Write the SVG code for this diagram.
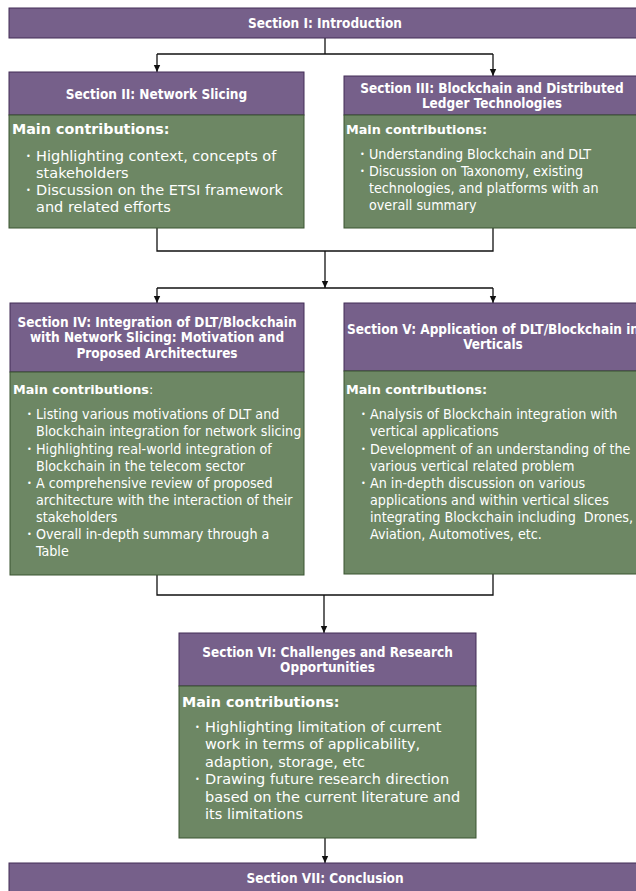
<svg xmlns="http://www.w3.org/2000/svg" width="636" height="891" viewBox="0 0 636 891">
<style>
.hd{fill:#76608A;stroke:#432D57;stroke-width:1}
.bd{fill:#6D8764;stroke:#3A5431;stroke-width:1}
.ht{font-family:"DejaVu Sans Condensed","DejaVu Sans",sans-serif;font-weight:bold;font-size:13.5px;fill:#fff;text-anchor:middle}
.mc{font-family:"DejaVu Sans",sans-serif;font-weight:bold;fill:#fff}
.mcl{font-size:14.3px}
.mcs{font-size:12.8px}
.tw{font-family:"DejaVu Sans",sans-serif;font-size:14.5px;fill:#fff}
.tn{font-family:"DejaVu Sans Condensed","DejaVu Sans",sans-serif;font-size:14.2px;fill:#fff}
.bu{font-family:"DejaVu Sans",sans-serif;font-size:8px;fill:#fff}
.cn{fill:none;stroke:#111;stroke-width:1.3}
</style>
<defs>
<marker id="ah" markerWidth="8" markerHeight="8" refX="7" refY="4" orient="auto" markerUnits="userSpaceOnUse">
<path d="M0,0.8 L7,4 L0,7.2 Z" fill="#111"/>
</marker>
</defs>

<g id="connectors">
<path class="cn" d="M325,38 V54"/>
<path class="cn" d="M157,54 H493"/>
<path class="cn" d="M157,54 V72" marker-end="url(#ah)"/>
<path class="cn" d="M493,54 V76" marker-end="url(#ah)"/>
<path class="cn" d="M157,228 V251 H493 V228"/>
<path class="cn" d="M325,251 V288" marker-end="url(#ah)"/>
<path class="cn" d="M157,288 H493"/>
<path class="cn" d="M157,288 V303" marker-end="url(#ah)"/>
<path class="cn" d="M493,288 V303" marker-end="url(#ah)"/>
<path class="cn" d="M157,575 V595 H493 V574"/>
<path class="cn" d="M324,595 V633" marker-end="url(#ah)"/>
<path class="cn" d="M325,838 V863" marker-end="url(#ah)"/>
</g>

<g id="section1">
<rect class="hd" x="9" y="8" width="632" height="30"/>
<text class="ht" x="325" y="28.3">Section I: Introduction</text>
</g>

<g id="section2">
<rect class="hd" x="9" y="72" width="295" height="43"/>
<rect class="bd" x="9" y="115" width="295" height="113"/>
<text class="ht" x="156.5" y="99.3">Section II: Network Slicing</text>
<text class="mc mcl" x="12" y="134.3">Main contributions:</text>
<text class="bu" x="26" y="158.5">•</text>
<text class="tw" x="36" y="160.5">Highlighting context, concepts of</text>
<text class="tw" x="36" y="177.8">stakeholders</text>
<text class="bu" x="26" y="193">•</text>
<text class="tw" x="36" y="195">Discussion on the ETSI framework</text>
<text class="tw" x="36" y="212.3">and related efforts</text>
</g>

<g id="section3">
<rect class="hd" x="344" y="76" width="296" height="39"/>
<rect class="bd" x="344" y="115" width="296" height="113"/>
<text class="ht" x="492" y="92.7">Section III: Blockchain and Distributed</text>
<text class="ht" x="492" y="108.3">Ledger Technologies</text>
<text class="mc mcs" x="346" y="134">Main contributions:</text>
<text class="bu" x="360" y="157">•</text>
<text class="tn" x="369" y="159">Understanding Blockchain and DLT</text>
<text class="bu" x="360" y="174">•</text>
<text class="tn" x="369" y="176">Discussion on Taxonomy, existing</text>
<text class="tn" x="369" y="193">technologies, and platforms with an</text>
<text class="tn" x="369" y="210">overall summary</text>
</g>

<g id="section4">
<rect class="hd" x="10" y="303" width="294" height="69"/>
<rect class="bd" x="10" y="372" width="294" height="203"/>
<text class="ht" x="157" y="326.7">Section IV: Integration of DLT/Blockchain</text>
<text class="ht" x="157" y="342.3">with Network Slicing: Motivation and</text>
<text class="ht" x="157" y="357.7">Proposed Architectures</text>
<text class="mc mcs" x="13" y="394.3">Main contributions<tspan font-weight="normal">:</tspan></text>
<text class="bu" x="27" y="417.3">•</text>
<text class="tn" x="36" y="419.3">Listing various motivations of DLT and</text>
<text class="tn" x="36" y="436.4">Blockchain integration for network slicing</text>
<text class="bu" x="27" y="451.5">•</text>
<text class="tn" x="36" y="453.5">Highlighting real-world integration of</text>
<text class="tn" x="36" y="470.6">Blockchain in the telecom sector</text>
<text class="bu" x="27" y="485.7">•</text>
<text class="tn" x="36" y="487.7">A comprehensive review of proposed</text>
<text class="tn" x="36" y="504.8">architecture with the interaction of their</text>
<text class="tn" x="36" y="521.9">stakeholders</text>
<text class="bu" x="27" y="537">•</text>
<text class="tn" x="36" y="539">Overall in-depth summary through a</text>
<text class="tn" x="36" y="556">Table</text>
</g>

<g id="section5">
<rect class="hd" x="344" y="303" width="296" height="68"/>
<rect class="bd" x="344" y="371" width="296" height="203"/>
<text class="ht" x="493" y="334">Section V: Application of DLT/Blockchain in</text>
<text class="ht" x="493" y="349.3">Verticals</text>
<text class="mc mcs" x="346" y="394.3">Main contributions:</text>
<text class="bu" x="361" y="417.3">•</text>
<text class="tn" x="370" y="419.3">Analysis of Blockchain integration with</text>
<text class="tn" x="370" y="436.4">vertical applications</text>
<text class="bu" x="361" y="451.5">•</text>
<text class="tn" x="370" y="453.5">Development of an understanding of the</text>
<text class="tn" x="370" y="470.6">various vertical related problem</text>
<text class="bu" x="361" y="485.7">•</text>
<text class="tn" x="370" y="487.7">An in-depth discussion on various</text>
<text class="tn" x="370" y="504.8">applications and within vertical slices</text>
<text class="tn" x="370" y="521.9" style="white-space:pre">integrating Blockchain including  Drones,</text>
<text class="tn" x="370" y="539">Aviation, Automotives, etc.</text>
</g>

<g id="section6">
<rect class="hd" x="179" y="633" width="297" height="53"/>
<rect class="bd" x="179" y="686" width="297" height="152"/>
<text class="ht" x="327.5" y="656.7">Section VI: Challenges and Research</text>
<text class="ht" x="327.5" y="672.3">Opportunities</text>
<text class="mc mcl" x="182" y="706.7">Main contributions:</text>
<text class="bu" x="195" y="729.7">•</text>
<text class="tw" x="205" y="731.7">Highlighting limitation of current</text>
<text class="tw" x="205" y="749.2">work in terms of applicability,</text>
<text class="tw" x="205" y="766.7">adaption, storage, etc</text>
<text class="bu" x="195" y="782.2">•</text>
<text class="tw" x="205" y="784.2">Drawing future research direction</text>
<text class="tw" x="205" y="801.7">based on the current literature and</text>
<text class="tw" x="205" y="819.2">its limitations</text>
</g>

<g id="section7">
<rect class="hd" x="9" y="863" width="632" height="35"/>
<text class="ht" x="325" y="883.3">Section VII: Conclusion</text>
</g>
</svg>
